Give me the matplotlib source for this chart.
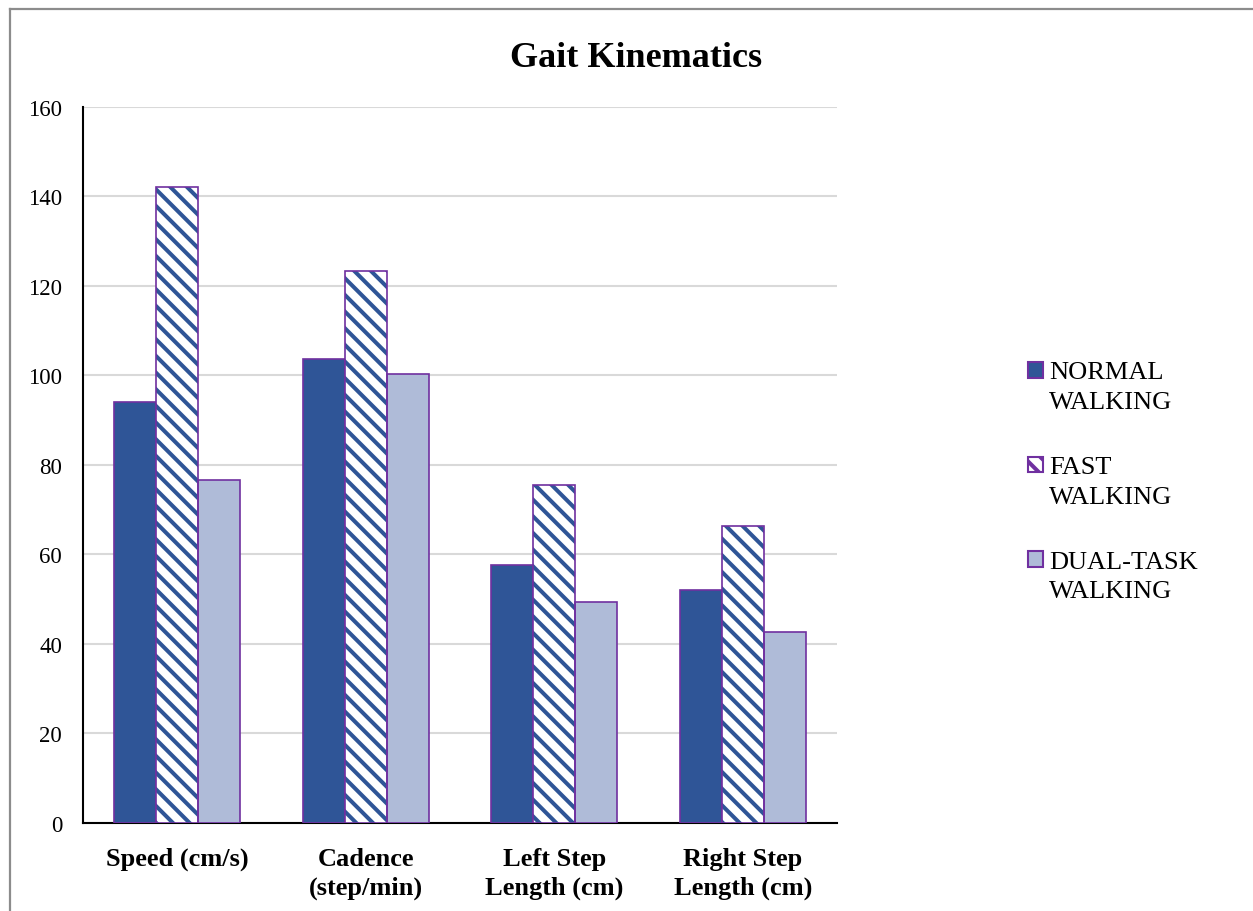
import matplotlib
matplotlib.use("Agg")
import matplotlib.pyplot as plt
import numpy as np
from matplotlib.patches import Patch, Rectangle
from matplotlib.lines import Line2D
from matplotlib.legend_handler import HandlerPatch

categories = ["Speed (cm/s)", "Cadence\n(step/min)", "Left Step\nLength (cm)", "Right Step\nLength (cm)"]
series_names = ["NORMAL\nWALKING", "FAST\nWALKING", "DUAL-TASK\nWALKING"]
normal = [94.1, 103.6, 57.7, 52.1]
fast = [142.2, 123.3, 75.5, 66.4]
dual = [76.7, 100.4, 49.4, 42.6]
yticks = [0, 20, 40, 60, 80, 100, 120, 140, 160]

BLUE = "#2F5597"
LIGHT = "#AFBBD8"
PURPLE = "#7030A0"
GRID = "#D9D9D9"

plt.rcParams["font.family"] = ["Liberation Serif", "DejaVu Serif"]
plt.rcParams["hatch.linewidth"] = 2.9

fig = plt.figure(figsize=(12.53, 9.12), dpi=100)
ax = fig.add_axes([0.0662, 0.0965, 0.6018, 0.7851])

x = np.arange(len(categories))
w = 0.223
ax.bar(x - w, normal, w, color=BLUE, edgecolor=PURPLE, linewidth=1.2, zorder=3)
ax.bar(x, fast, w, color="white", edgecolor=BLUE, hatch="\\\\", linewidth=0, zorder=3)
ax.bar(x, fast, w, fill=False, edgecolor=PURPLE, linewidth=1.2, zorder=4)
ax.bar(x + w, dual, w, color=LIGHT, edgecolor=PURPLE, linewidth=1.2, zorder=3)

ax.set_xlim(-0.5, len(categories) - 0.5)
ax.set_ylim(0, 160)
ax.set_yticks(yticks)
ax.set_yticklabels([str(t) for t in yticks], fontsize=16.5)
ax.set_xticks(x)
ax.set_xticklabels(categories, fontsize=19, fontweight="bold", linespacing=1.32)
ax.tick_params(axis="both", length=0)
ax.tick_params(axis="y", pad=15)
ax.tick_params(axis="x", pad=17)
ax.grid(axis="y", color=GRID, linewidth=1.5, zorder=0)
ax.set_axisbelow(True)
for s in ["top", "right"]:
    ax.spines[s].set_visible(False)
ax.spines["left"].set_linewidth(1.5)
ax.spines["bottom"].set_linewidth(1.5)

fig.text(0.5075, 0.936, "Gait Kinematics", ha="center", va="center", fontsize=26, fontweight="bold")

class TopHandler(HandlerPatch):
    def create_artists(self, legend, orig_handle, xdescent, ydescent, width, height, fontsize, trans):
        shift = fontsize * 0.63
        p = Rectangle((-xdescent, -ydescent + shift), width, height,
                      facecolor=orig_handle.get_facecolor(), edgecolor=PURPLE,
                      hatch=orig_handle.get_hatch(), linewidth=1.5, transform=trans)
        return [p]

handles = [Patch(facecolor=BLUE), Patch(facecolor="white", edgecolor=BLUE, hatch="\\\\"), Patch(facecolor=LIGHT)]
leg = fig.legend(handles, series_names, loc="upper left", bbox_to_anchor=(0.810, 0.617),
                 frameon=False, fontsize=19, handlelength=0.55, handleheight=0.55,
                 handletextpad=0.25, labelspacing=1.63, borderpad=0,
                 handler_map={Patch: TopHandler()})
for t in leg.get_texts():
    t.set_linespacing(1.45)

fig.add_artist(Line2D([10/1253, 10/1253], [0, 1 - 10/912], color="#8C8C8C", linewidth=1.6, transform=fig.transFigure))
fig.add_artist(Line2D([10/1253, 1], [1 - 10/912, 1 - 10/912], color="#8C8C8C", linewidth=1.6, transform=fig.transFigure))

fig.savefig("out.png", dpi=100)
